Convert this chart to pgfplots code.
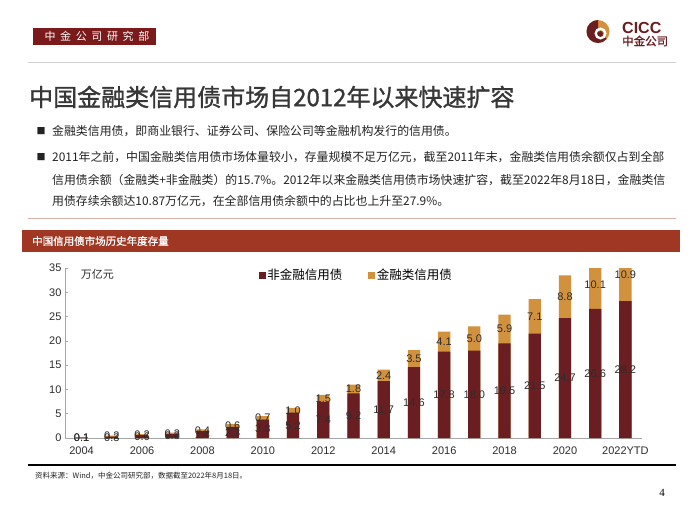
\documentclass[border=0pt]{standalone}
\usepackage{fontspec}
\setmainfont{Liberation Sans}
\newfontfamily\cjk{Noto Sans CJK SC}
\newfontfamily\cjkt{Noto Sans CJK SC}[FakeBold=1.2]
\newfontfamily\cjkls{Noto Sans CJK SC}[LetterSpace=42]
\newfontfamily\serif{Liberation Serif}
\usepackage{pgfplots}
\usepackage{pgfplotstable}
\pgfplotsset{compat=1.18}
\definecolor{maroon}{RGB}{107,30,34}
\definecolor{gold}{RGB}{210,145,60}
\definecolor{rust}{RGB}{160,55,35}
\definecolor{hdr}{RGB}{122,26,26}
\definecolor{txt}{RGB}{35,35,35}
\definecolor{ttl}{RGB}{55,55,55}
\definecolor{lbl}{RGB}{45,45,45}
\newcommand{\fs}[1]{\fontsize{#1bp}{#1bp}\selectfont}

\pgfplotstableread{
year non fin
2004 0.1 0.1
2005 0.3 0.2
2006 0.6 0.2
2007 0.8 0.3
2008 1.4 0.4
2009 2.3 0.6
2010 3.8 0.7
2011 5.2 1.0
2012 7.4 1.5
2013 9.2 1.8
2014 11.7 2.4
2015 14.6 3.5
2016 17.8 4.1
2017 18.0 5.0
2018 19.5 5.9
2019 21.5 7.1
2020 24.7 8.8
2021 26.6 10.1
2022 28.2 10.9
}\data

\begin{document}
\begin{tikzpicture}
\useasboundingbox[fill=white] (0,0) rectangle (700bp,-525bp);
% logo (unflipped coordinates)
\fill[gold] (598bp,-31.5bp) circle (11.5bp);
\fill[maroon] (598bp,-31.5bp) -- ++(90:11.5bp) arc[start angle=90, end angle=320, radius=11.5bp] -- cycle;
\draw[white, line width=2.3bp] (600.5bp,-33.5bp) circle (4.8bp);
\fill[maroon] (600.5bp,-33.5bp) circle (2.5bp);
\begin{scope}[x=1bp,y=-1bp]
\fill[hdr] (33,28) rectangle (156,45);
\node[text=white, font=\cjkls\fs{11}, inner sep=0] at (97,36.5) {中金公司研究部};
\node[anchor=west, text=maroon, font=\bfseries\fs{16}, inner sep=0] at (622,27.5) {CICC};
\node[anchor=west, text=maroon, font=\cjkt\fs{11.5}, inner sep=0] at (622,41) {中金公司};
\draw[gray!35, line width=0.8] (28,62) -- (676,62);
\node[anchor=west, text=ttl, font=\cjkt\fs{24}, inner sep=0] at (29,97) {中国金融类信用债市场自2012年以来快速扩容};
\node[font=\cjk\fs{9}, inner sep=0, text=txt] at (41,131) {■};
\node[anchor=west, text=txt, font=\cjk\fs{11.9}, inner sep=0] at (52,131) {金融类信用债，即商业银行、证券公司、保险公司等金融机构发行的信用债。};
\node[font=\cjk\fs{9}, inner sep=0, text=txt] at (41,157) {■};
\node[anchor=west, text=txt, font=\cjk\fs{11.9}, inner sep=0] at (52,157) {2011年之前，中国金融类信用债市场体量较小，存量规模不足万亿元，截至2011年末，金融类信用债余额仅占到全部};
\node[anchor=west, text=txt, font=\cjk\fs{11.9}, inner sep=0] at (52,180) {信用债余额（金融类+非金融类）的15.7\%。2012年以来金融类信用债市场快速扩容，截至2022年8月18日，金融类信};
\node[anchor=west, text=txt, font=\cjk\fs{11.9}, inner sep=0] at (52,201) {用债存续余额达10.87万亿元，在全部信用债余额中的占比也上升至27.9\%。};
\draw[rust!40, line width=0.8] (28,218) -- (676,218);
\fill[rust] (22,230) rectangle (680,252);
\node[anchor=west, text=white, font=\cjkt\fs{10.5}, inner sep=0] at (32,241) {中国信用债市场历史年度存量};
\draw[black, line width=1.6] (28,465) -- (676,465);
\node[anchor=west, text=txt, font=\cjk\fs{7.5}, inner sep=0] at (35,476) {资料来源：Wind，中金公司研究部，数据截至2022年8月18日。};
\node[text=black, font=\serif\fs{11}, inner sep=0] at (662,493) {4};
\end{scope}
\begin{axis}[
  at={(65bp,-438bp)}, anchor=south west,
  width=577bp, height=170bp, scale only axis,
  xmin=2003.45, xmax=2022.55, ymin=0, ymax=35,
  /pgf/number format/assume math mode=true,
  axis x line*=bottom, axis y line*=left,
  axis line style={draw=gray!70, line width=0.6bp, -},
  xtick={2004,2006,...,2022},
  xticklabels={2004,2006,2008,2010,2012,2014,2016,2018,2020,2022YTD},
  xtick style={draw=none},
  extra x ticks={2003.5,2004.5,...,2022.5},
  extra x tick labels={},
  extra x tick style={draw=gray!70, line width=0.5bp, major tick length=3bp},
  ytick={0,5,...,35},
  major tick length=3bp,
  tick align=inside,
  ytick style={draw=gray!70, line width=0.5bp},
  tick label style={font=\fs{11}, text=lbl},
  xticklabel style={yshift=-5bp},
  legend style={at={(0.336,0.96)}, anchor=west, draw=none, fill=none,
    font=\cjk\fs{12.5}, legend columns=2, inner sep=0pt,
    /tikz/every even column/.append style={column sep=24bp}},
  legend image code/.code={\fill[#1] (0bp,-3bp) rectangle (6bp,3bp);},
]
\addplot[ybar, bar width=12.3bp, bar shift=0pt, fill=gold, draw=none, forget plot]
  table[x=year, y expr=\thisrow{non}+\thisrow{fin}] {\data};
\addplot[ybar, bar width=12.3bp, bar shift=0pt, fill=maroon, draw=none, forget plot]
  table[x=year, y=non] {\data};
\addplot[draw=none, forget plot, nodes near coords, point meta=explicit,
  every node near coord/.style={anchor=center, font=\fs{11}, text=lbl, inner sep=0},
  nodes near coords={\pgfmathprintnumber[fixed, fixed zerofill, precision=1]{\pgfplotspointmeta}}]
  table[x=year, y expr=\thisrow{non}/2, meta=non] {\data};
\addplot[draw=none, forget plot, nodes near coords, point meta=explicit,
  every node near coord/.style={anchor=center, font=\fs{11}, text=lbl, inner sep=0},
  nodes near coords={\pgfmathprintnumber[fixed, fixed zerofill, precision=1]{\pgfplotspointmeta}}]
  table[x=year, y expr=\thisrow{non}+\thisrow{fin}/2, meta=fin] {\data};
\addlegendimage{maroon}
\addlegendentry{非金融信用债}
\addlegendimage{gold}
\addlegendentry{金融类信用债}
\node[anchor=west, font=\cjk\fs{11}, text=lbl, inner sep=0] at (rel axis cs:0.027,0.965) {万亿元};
\end{axis}
\end{tikzpicture}
\end{document}
